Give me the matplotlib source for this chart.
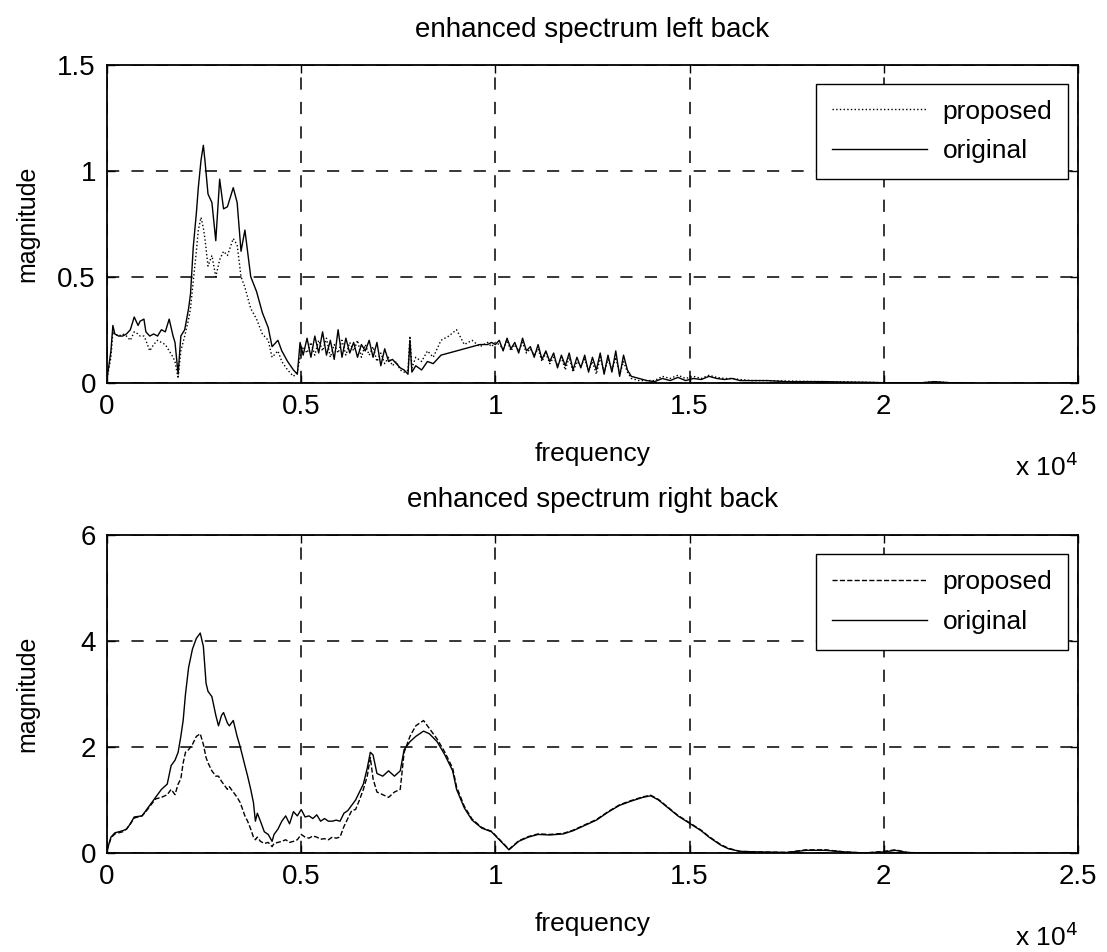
import numpy as np
import matplotlib.pyplot as plt

plt.rcParams['font.family'] = ['Liberation Sans', 'DejaVu Sans']

# ---- top panel: left back ----
freq_top = [0, 100, 150, 200, 300, 400, 500, 600, 700, 800, 850, 950, 1000, 1100, 1200,
            1300, 1400, 1500, 1600, 1700, 1750, 1830, 1900, 2000, 2100, 2150, 2220, 2300,
            2350, 2420, 2480, 2520, 2600, 2700, 2800, 2900, 3000, 3100, 3250, 3350, 3450,
            3550, 3700, 3850, 4000, 4150, 4250, 4400, 4500, 4650, 4800, 4900, 4970,
            5050, 5150, 5250, 5350, 5450, 5550, 5650, 5750, 5850, 5950, 6050, 6150, 6250,
            6350, 6450, 6550, 6650, 6750, 6850, 6950, 7050, 7150, 7250, 7350, 7450, 7550,
            7650, 7750, 7800, 7850, 7950, 8100, 8250, 8400, 8600, 8800, 9000, 9200, 9400,
            9600, 9800, 9900, 10000, 10100, 10200, 10300, 10400, 10500, 10600, 10700,
            10800, 10900, 11000, 11100, 11200, 11300, 11400, 11500, 11600, 11700, 11800,
            11900, 12000, 12100, 12200, 12300, 12400, 12500, 12600, 12700, 12800, 12900,
            13000, 13100, 13200, 13300, 13400, 13500, 13700, 13900, 14100, 14300, 14500,
            14700, 14900, 15100, 15300, 15500, 15700, 15900, 16100, 16300, 16600, 17000,
            17500, 18000, 18500, 19000, 19500, 20000, 21000, 21300, 21700, 22050]

orig_top = [0.02, 0.15, 0.27, 0.23, 0.22, 0.22, 0.23, 0.25, 0.31, 0.27, 0.29, 0.30, 0.24,
            0.22, 0.23, 0.22, 0.25, 0.24, 0.30, 0.22, 0.19, 0.04, 0.22, 0.25, 0.35, 0.42,
            0.64, 0.80, 0.92, 1.05, 1.12, 1.05, 0.89, 0.85, 0.67, 0.96, 0.82, 0.83, 0.92,
            0.85, 0.62, 0.72, 0.50, 0.43, 0.33, 0.26, 0.17, 0.20, 0.15, 0.10, 0.06, 0.04,
            0.19,
            0.13, 0.21, 0.12, 0.22, 0.14, 0.24, 0.13, 0.20, 0.11, 0.25, 0.12, 0.21, 0.14,
            0.19, 0.12, 0.18, 0.15, 0.20, 0.12, 0.19, 0.08, 0.16, 0.10, 0.11, 0.09, 0.07,
            0.06, 0.04, 0.20, 0.05, 0.08, 0.06, 0.10, 0.09, 0.13, 0.14, 0.15, 0.16, 0.17,
            0.18, 0.18, 0.19, 0.18, 0.20, 0.15, 0.21, 0.16, 0.19, 0.14, 0.21,
            0.15, 0.17, 0.12, 0.18, 0.11, 0.15, 0.10, 0.14, 0.07, 0.13, 0.08,
            0.14, 0.06, 0.12, 0.07, 0.13, 0.05, 0.12, 0.06, 0.14, 0.04, 0.13,
            0.05, 0.15, 0.03, 0.13, 0.06, 0.03, 0.02, 0.01, 0.005, 0.02, 0.01,
            0.025, 0.01, 0.02, 0.015, 0.03, 0.02, 0.015, 0.02, 0.01, 0.01, 0.01,
            0.005, 0.005, 0.005, 0.003, 0.002, 0.0, 0.0, 0.005, 0.0, 0.0]

prop_top = [0.02, 0.12, 0.24, 0.23, 0.22, 0.23, 0.22, 0.20, 0.24, 0.23, 0.22, 0.22, 0.20,
            0.15, 0.18, 0.20, 0.19, 0.18, 0.15, 0.12, 0.10, 0.02, 0.15, 0.22, 0.30, 0.35,
            0.48, 0.62, 0.72, 0.78, 0.73, 0.68, 0.55, 0.60, 0.50, 0.58, 0.62, 0.60, 0.68,
            0.65, 0.50, 0.45, 0.35, 0.30, 0.23, 0.20, 0.12, 0.15, 0.10, 0.06, 0.03, 0.05,
            0.12,
            0.17, 0.14, 0.19, 0.13, 0.20, 0.15, 0.21, 0.12, 0.18, 0.14, 0.20, 0.13, 0.19,
            0.15, 0.20, 0.12, 0.18, 0.13, 0.17, 0.10, 0.14, 0.09, 0.12, 0.08, 0.10, 0.06,
            0.05, 0.06, 0.22, 0.07, 0.12, 0.10, 0.15, 0.12, 0.20, 0.22, 0.25, 0.18, 0.20,
            0.17, 0.19, 0.17, 0.19, 0.18, 0.16, 0.20, 0.15, 0.18, 0.15, 0.19,
            0.14, 0.16, 0.13, 0.16, 0.10, 0.14, 0.09, 0.12, 0.08, 0.12, 0.06,
            0.12, 0.05, 0.10, 0.08, 0.11, 0.06, 0.10, 0.04, 0.12, 0.05, 0.11,
            0.06, 0.12, 0.04, 0.10, 0.05, 0.02, 0.01, 0.01, 0.01, 0.03, 0.02,
            0.035, 0.02, 0.03, 0.02, 0.035, 0.025, 0.02, 0.02, 0.015, 0.01, 0.01,
            0.008, 0.006, 0.005, 0.004, 0.002, 0.0, 0.0, 0.005, 0.0, 0.0]

# ---- bottom panel: right back ----
freq_bot = [0, 100, 200, 400, 500, 600, 700, 900, 1000, 1100, 1250, 1400, 1550, 1650, 1750,
            1830, 1900, 1960, 2020, 2100, 2200, 2300, 2400, 2480, 2550, 2600, 2700, 2800,
            2870, 2950, 3000, 3100, 3150, 3250, 3350, 3430, 3550, 3620, 3700, 3770, 3820,
            3870, 3950, 4050, 4150, 4250, 4300, 4400, 4500, 4600, 4700, 4800, 4900, 5000,
            5100, 5200, 5300, 5400, 5500, 5600, 5700, 5800, 5900, 6000, 6100, 6200, 6300,
            6400, 6500, 6600, 6700, 6780, 6850, 6950, 7100, 7250, 7400, 7550, 7650, 7800,
            7950, 8150, 8300, 8500, 8700, 8900, 9000, 9200, 9400, 9650, 9900, 10100, 10350,
            10600, 10850, 11100, 11400, 11750, 12000, 12300, 12600, 12900, 13200, 13500,
            13800, 14000, 14200, 14400, 14700, 15000, 15300, 15500, 15800, 16000, 16300,
            16800, 17500, 18000, 18500, 19000, 19500, 20000, 20300, 20600, 21000, 22050]

orig_bot = [0.05, 0.30, 0.38, 0.42, 0.45, 0.55, 0.68, 0.70, 0.80, 0.90, 1.05, 1.20, 1.30,
            1.65, 1.75, 1.90, 2.20, 2.50, 3.00, 3.50, 3.85, 4.05, 4.15, 3.90, 3.20, 3.05,
            2.95, 2.60, 2.40, 2.60, 2.65, 2.45, 2.40, 2.50, 2.20, 2.00, 1.65, 1.45, 1.20,
            0.95, 0.60, 0.75, 0.60, 0.40, 0.35, 0.22, 0.35, 0.45, 0.60, 0.70, 0.55, 0.78,
            0.70, 0.82, 0.68, 0.70, 0.65, 0.72, 0.60, 0.65, 0.60, 0.60, 0.62, 0.60, 0.75,
            0.80, 0.90, 1.00, 1.15, 1.30, 1.60, 1.90, 1.85, 1.50, 1.45, 1.55, 1.45, 1.55,
            1.95, 2.10, 2.20, 2.30, 2.25, 2.10, 1.85, 1.55, 1.20, 0.85, 0.62, 0.47, 0.40,
            0.25, 0.06, 0.22, 0.30, 0.35, 0.34, 0.36, 0.42, 0.52, 0.62, 0.77, 0.90, 0.98,
            1.05, 1.08, 1.00, 0.88, 0.70, 0.56, 0.42, 0.30, 0.15, 0.08, 0.03, 0.02, 0.01,
            0.05, 0.05, 0.02, 0.0, 0.02, 0.05, 0.01, 0.0, 0.0]

prop_bot = [0.05, 0.28, 0.36, 0.40, 0.45, 0.55, 0.66, 0.70, 0.78, 0.88, 1.02, 1.05, 1.10,
            1.20, 1.10, 1.30, 1.40, 1.70, 1.90, 1.95, 2.05, 2.20, 2.25, 2.05, 1.80, 1.70,
            1.55, 1.45, 1.45, 1.35, 1.30, 1.20, 1.25, 1.15, 1.05, 0.95, 0.70, 0.60, 0.45,
            0.30, 0.25, 0.30, 0.22, 0.18, 0.20, 0.12, 0.18, 0.20, 0.22, 0.25, 0.20, 0.22,
            0.25, 0.35, 0.30, 0.28, 0.32, 0.30, 0.26, 0.27, 0.25, 0.30, 0.28, 0.30, 0.50,
            0.65, 0.80, 0.82, 1.00, 1.20, 1.45, 1.80, 1.40, 1.15, 1.10, 1.05, 1.15, 1.20,
            1.90, 2.20, 2.40, 2.50, 2.35, 2.15, 1.90, 1.60, 1.25, 0.88, 0.64, 0.48, 0.41,
            0.26, 0.07, 0.23, 0.31, 0.36, 0.35, 0.37, 0.43, 0.53, 0.63, 0.78, 0.91, 0.99,
            1.06, 1.09, 1.01, 0.89, 0.71, 0.57, 0.43, 0.31, 0.16, 0.09, 0.03, 0.02, 0.01,
            0.06, 0.06, 0.02, 0.0, 0.03, 0.06, 0.01, 0.0, 0.0]

xticks = [0, 5000, 10000, 15000, 20000, 25000]
xtick_labels = ['0', '0.5', '1', '1.5', '2', '2.5']

fig = plt.figure(figsize=(11.07, 9.52), dpi=100)
ax1 = fig.add_axes([0.0967, 0.598, 0.877, 0.334])
ax2 = fig.add_axes([0.0967, 0.104, 0.877, 0.334])


def style_axis(ax, title, ylim, yticks, ylabels):
    ax.set_xlim(0, 25000)
    ax.set_ylim(*ylim)
    ax.set_xticks(xticks)
    ax.set_xticklabels(xtick_labels)
    ax.set_yticks(yticks)
    ax.set_yticklabels(ylabels)
    ax.tick_params(direction='in', length=6, width=1, labelsize=20, top=True, right=True, pad=8)
    ax.grid(True, color='black', linestyle=(0, (8, 8)), linewidth=1.1)
    for s in ax.spines.values():
        s.set_linewidth(1.3)
    ax.set_title(title, fontsize=20, pad=20)
    ax.set_xlabel('frequency', fontsize=19, labelpad=16)
    ax.set_ylabel('magnitude', fontsize=18)
    ax.yaxis.set_label_coords(-0.07, 0.5)
    ax.text(1.0, -0.22, 'x 10$^4$', transform=ax.transAxes, fontsize=19,
            ha='right', va='top')


ax1.plot(freq_top, prop_top, color='black', linestyle=':', linewidth=1.0, label='proposed')
ax1.plot(freq_top, orig_top, color='black', linestyle='-', linewidth=1.0, label='original')
style_axis(ax1, 'enhanced spectrum left back', (0, 1.5), [0, 0.5, 1, 1.5],
           ['0', '0.5', '1', '1.5'])

ax2.plot(freq_bot, prop_bot, color='black', linestyle='--', linewidth=1.0, label='proposed')
ax2.plot(freq_bot, orig_bot, color='black', linestyle='-', linewidth=1.0, label='original')
style_axis(ax2, 'enhanced spectrum right back', (0, 6), [0, 2, 4, 6],
           ['0', '2', '4', '6'])

for ax in (ax1, ax2):
    leg = ax.legend(loc='upper right', fontsize=19, handlelength=3.6, handletextpad=0.6,
                    fancybox=False, framealpha=1, edgecolor='black', borderpad=0.6,
                    labelspacing=0.6, borderaxespad=0, bbox_to_anchor=(0.99, 0.94))
    leg.get_frame().set_linewidth(1.0)

fig.savefig('out.png', dpi=100, facecolor='white')
